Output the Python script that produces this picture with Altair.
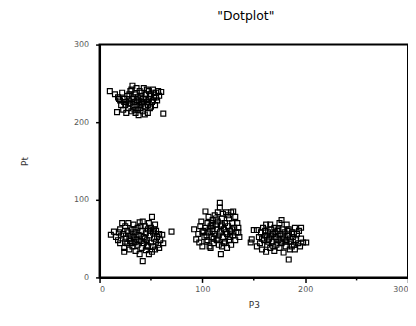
import altair as alt
import pandas as pd

# Cluster 1 (upper left)
c1_x = [10,15,18,20,22,24,25,26,27,28,29,30,30,31,32,32,33,34,35,35,36,37,38,38,39,40,40,41,42,42,43,44,45,46,47,48,48,49,50,51,52,53,54,55,56,57,58,60,62,21,23,26,29,31,34,36,37,39,41,43,44,45,46,47,49,50,52,53,55,28,33,36,40,24,19,17]
c1_y = [240,236,232,228,238,230,222,226,234,218,228,240,224,214,247,230,220,226,236,212,222,232,209,228,240,218,234,224,214,230,244,220,236,226,212,240,230,218,236,226,242,232,222,238,228,240,234,239,211,222,216,212,236,242,216,244,216,222,238,226,210,230,242,222,234,220,228,238,232,224,232,228,226,226,230,213]

# Cluster 2 (lower left)
c2_x = [11,14,16,18,20,20,22,23,24,24,25,26,27,27,28,29,30,30,31,32,33,33,34,35,35,36,37,37,38,39,39,40,41,41,42,42,43,43,44,45,45,46,47,47,48,48,49,50,50,51,51,52,52,53,54,54,55,55,56,57,58,58,59,61,62,70,21,25,28,31,34,36,38,40,44,46,49,53,29,19]
c2_y = [55,59,52,48,62,44,70,56,38,33,66,50,44,60,70,36,54,47,62,40,68,52,45,58,34,49,64,42,55,30,71,47,60,38,72,21,52,44,66,35,57,48,62,40,70,30,54,45,64,78,33,58,40,50,68,36,46,60,52,42,56,38,48,55,44,59,54,46,58,44,62,54,46,66,50,40,60,62,50,58]

# Cluster 3 (middle)
c3_x = [92,94,96,97,98,99,100,100,102,103,103,104,105,106,106,107,108,108,109,110,110,111,112,112,113,114,114,115,115,116,117,117,117,118,118,119,119,120,120,121,122,122,123,124,124,125,126,126,127,128,128,129,130,130,131,132,132,133,134,135,135,136,101,104,107,109,111,113,116,119,121,123,125,127,129,105,110,115]
c3_y = [62,49,56,45,66,72,40,58,52,85,64,46,70,78,58,40,38,66,52,74,60,44,80,56,68,48,62,84,72,42,96,90,58,30,66,40,76,52,82,62,46,70,84,56,38,66,76,48,60,84,42,70,54,85,64,78,48,58,70,64,58,52,60,54,62,70,50,76,54,68,44,58,80,52,62,48,66,50]

# Cluster 4 (right)
c4_x = [147,148,150,153,153,155,156,157,158,159,160,161,162,162,163,164,165,166,166,167,168,169,170,170,171,172,173,174,175,175,176,177,177,178,179,179,180,181,182,182,183,184,184,185,186,187,188,189,190,190,191,192,193,194,196,196,198,201,158,161,164,167,169,172,174,176,178,181,183,185,187,189,171,163,195]
c4_y = [45,49,61,61,40,52,44,58,36,64,48,54,33,68,42,58,50,68,38,62,46,56,34,64,52,42,60,48,70,38,56,74,44,62,32,50,58,40,68,48,54,23,62,36,46,58,52,42,64,36,48,56,44,60,64,50,45,45,50,60,46,54,40,50,62,46,54,46,60,50,40,56,58,54,40]

minor_ticks = [50, 150, 250]
x_ticks = [0, 100, 200, 300]
y_ticks = [0, 100, 200, 300]

xs = c1_x + c2_x + c3_x + c4_x
ys = c1_y + c2_y + c3_y + c4_y
df = pd.DataFrame({"P3": xs, "Pt": ys})
minor_df = pd.DataFrame({"m": minor_ticks})

FONT = "DejaVu Sans"
W, H = 310, 234

xscale = alt.Scale(domain=[0, 300], nice=False, zero=False)
yscale = alt.Scale(domain=[0, 300], nice=False, zero=False)

points = alt.Chart(df).mark_point(
    shape="square", filled=False, stroke="black", strokeWidth=1.2, size=24, opacity=1
).encode(
    x=alt.X("P3:Q", scale=xscale, axis=alt.Axis(
        values=x_ticks, title="P3", grid=False, tickSize=5, tickColor="black",
        tickWidth=1.5, domainColor="black", domainWidth=2, labelFont=FONT,
        labelFontSize=8, labelColor="#555555", labelPadding=3, titleFont=FONT,
        titleFontSize=9, titleFontWeight="normal", titleColor="#333333",
        titlePadding=7)),
    y=alt.Y("Pt:Q", scale=yscale, axis=alt.Axis(
        values=y_ticks, title="Pt", grid=False, tickSize=4, tickColor="black",
        tickWidth=1.5, domainColor="black", domainWidth=2, labelFont=FONT,
        labelFontSize=8, labelColor="#555555", labelPadding=7, titleFont=FONT,
        titleFontSize=9, titleFontWeight="normal", titleColor="#333333",
        titlePadding=44)),
)

minor = alt.Chart(minor_df).mark_rule(color="black", strokeWidth=1.5).encode(
    x=alt.X("m:Q", scale=xscale),
    y=alt.value(H),
    y2=alt.value(H + 3),
)

chart = alt.layer(points, minor).properties(
    width=W, height=H,
    title=alt.TitleParams('"Dotplot"', font=FONT, fontSize=12.5, fontWeight="normal",
                          color="black", anchor="middle", offset=18, dx=-8),
    autosize=alt.AutoSizeParams(type="none"),
    padding={"left": 92, "top": 36, "right": 0, "bottom": 34},
).configure_view(stroke="black", strokeWidth=2)

chart.save("out.html", embed_options={"renderer": "svg", "actions": False})
